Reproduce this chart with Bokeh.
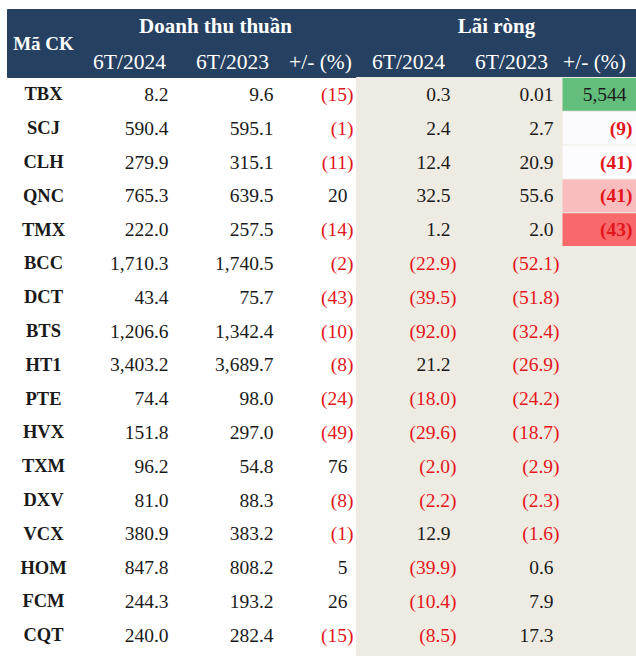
from bokeh.plotting import figure
from bokeh.models import ColumnDataSource, Range1d
from bokeh.core.properties import value
from bokeh.embed import file_html
from bokeh.resources import INLINE

# ---------------- data ----------------
tickers = ["TBX", "SCJ", "CLH", "QNC", "TMX", "BCC", "DCT", "BTS", "HT1", "PTE",
           "HVX", "TXM", "DXV", "VCX", "HOM", "FCM", "CQT"]
rev_2024 = [8.2, 590.4, 279.9, 765.3, 222.0, 1710.3, 43.4, 1206.6, 3403.2, 74.4,
            151.8, 96.2, 81.0, 380.9, 847.8, 244.3, 240.0]
rev_2023 = [9.6, 595.1, 315.1, 639.5, 257.5, 1740.5, 75.7, 1342.4, 3689.7, 98.0,
            297.0, 54.8, 88.3, 383.2, 808.2, 193.2, 282.4]
rev_chg = [-15, -1, -11, 20, -14, -2, -43, -10, -8, -24, -49, 76, -8, -1, 5, 26, -15]
np_2024 = [0.3, 2.4, 12.4, 32.5, 1.2, -22.9, -39.5, -92.0, 21.2, -18.0,
           -29.6, -2.0, -2.2, 12.9, -39.9, -10.4, -8.5]
np_2023 = [0.01, 2.7, 20.9, 55.6, 2.0, -52.1, -51.8, -32.4, -26.9, -24.2,
           -18.7, -2.9, -2.3, -1.6, 0.6, 7.9, 17.3]
np_chg = [5544, -9, -41, -41, -43]
np_chg_fill = ["#63BE7B", "#FBFBFE", "#FCFCFF", "#F9BDBF", "#F8696B"]

group_titles = ["Doanh thu thuần", "Lãi ròng"]
sub_titles = ["6T/2024", "6T/2023", "+/- (%)", "6T/2024", "6T/2023", "+/- (%)"]

# ---------------- layout ----------------
W, H = 636, 656
FONT = value("Liberation Serif")
NAVY = "#264061"
BEIGE = "#EEEBE2"
RED = "#E3161B"
BLACK = "#1A1A1A"
BODY = "19.5px"

left, right = 7, 636
head_top, head_bot = 9, 77
row_h = 33.8
col_edge = [174, 279, 353, 456, 559, 632]   # right edge incl. ")" of each numeric column
paren_w = 6
ticker_x = 43
sub_centers = [129, 232, 320, 408, 511, 594]
group_centers = [215, 496]

p = figure(width=W, height=H, x_range=Range1d(0, W), y_range=Range1d(H, 0),
           output_backend="svg", toolbar_location=None, min_border=0,
           x_axis_location=None, y_axis_location=None)
p.outline_line_color = None
p.grid.visible = False
p.background_fill_color = "white"
p.border_fill_color = "white"

n = len(tickers)
row_top = [head_bot + row_h * i for i in range(n)]
row_mid = [head_bot + row_h * (i + 0.5) for i in range(n)]

# backgrounds
p.quad(left=[left], right=[right], top=[head_top], bottom=[head_bot], color=NAVY)
p.quad(left=[356], right=[right], top=[head_bot], bottom=[H], color=BEIGE)
k = len(np_chg)
p.quad(left=[562] * k, right=[right] * k,
       top=[row_top[i] + 0.5 for i in range(k)],
       bottom=[row_top[i] + row_h - 0.5 for i in range(k)],
       fill_color=np_chg_fill, line_color=None)


def fmt(v, dec):
    s = f"{abs(v):,.{dec}f}"
    return f"({s})" if v < 0 else s


# header texts
p.text(x=[ticker_x], y=[43], text=["Mã CK"], text_font=FONT, text_font_size="19px",
       text_font_style="bold", text_color="white", text_align="center",
       text_baseline="middle")
p.text(x=group_centers, y=[25, 25], text=group_titles, text_font=FONT,
       text_font_size="21px", text_font_style="bold", text_color="white",
       text_align="center", text_baseline="middle")
p.text(x=sub_centers, y=[61] * 6, text=sub_titles, text_font=FONT,
       text_font_size="21.5px", text_color="white", text_align="center",
       text_baseline="middle")

# ticker column
p.text(x=[ticker_x] * n, y=row_mid, text=tickers, text_font=FONT, text_font_size="18.5px",
       text_font_style="bold", text_color=BLACK, text_align="center",
       text_baseline="middle")


def column(vals, ci, dec, bold=False, rows=None):
    rows = rows if rows is not None else range(len(vals))
    xs, ys, ts, cs = [], [], [], []
    for i, v in zip(rows, vals):
        d = 2 if (dec == 1 and 0 < abs(v) < 0.05) else dec
        xs.append(col_edge[ci] - (0 if v < 0 else paren_w))
        ys.append(row_mid[i])
        ts.append(fmt(v, d))
        cs.append(RED if v < 0 else BLACK)
    src = ColumnDataSource(dict(x=xs, y=ys, t=ts, c=cs))
    p.text(x="x", y="y", text="t", text_color="c", source=src, text_font=FONT,
           text_font_size=BODY, text_font_style="bold" if bold else "normal",
           text_align="right", text_baseline="middle")


column(rev_2024, 0, 1)
column(rev_2023, 1, 1)
column(rev_chg, 2, 0)
column(np_2024, 3, 1)
column(np_2023, 4, 1)
column(np_chg[:1], 5, 0, rows=[0])
column(np_chg[1:], 5, 0, bold=True, rows=range(1, k))

html = file_html(p, INLINE)
html = html.replace("<head>", "<head><style>html,body{margin:0;padding:0;overflow:hidden}</style>", 1)
open("out.html", "w").write(html)
